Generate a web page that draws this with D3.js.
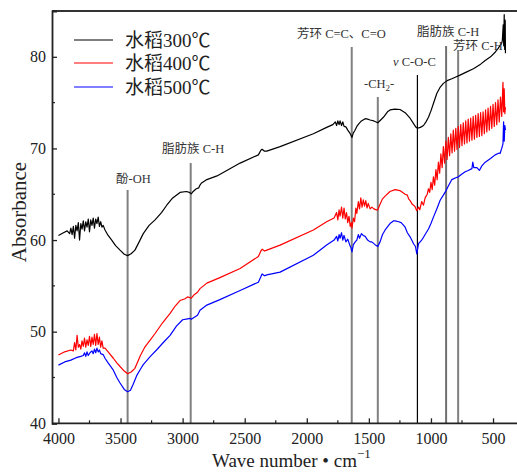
<!DOCTYPE html>
<html><head><meta charset="utf-8">
<script src="https://cdn.jsdelivr.net/npm/d3@7"></script>
<style>body{margin:0;background:#fff}svg{display:block}</style>
</head><body><svg id="c" width="517" height="474"></svg>
<script>
// ---- data ----
const seriesNames = ["水稻300℃", "水稻400℃", "水稻500℃"];
const seriesColors = ["#000000", "#ff0000", "#0000ff"];
const xTicks = [4000, 3500, 3000, 2500, 2000, 1500, 1000, 500];
const yTicks = [40, 50, 60, 70, 80];

const s300 = [[4000,60.5],[3960,60.8],[3930,61.0],[3910,60.7],[3900,61.3],[3890,60.6],[3880,61.5],[3870,60.2],[3860,61.6],[3850,61.0],[3840,61.9],[3830,60.0],[3820,61.8],[3810,61.2],[3800,62.1],[3790,61.0],[3780,62.0],[3770,61.4],[3760,62.3],[3750,60.9],[3740,62.2],[3730,61.6],[3720,62.4],[3710,61.3],[3700,62.3],[3690,61.8],[3680,62.5],[3670,61.5],[3660,62.0],[3650,61.4],[3640,61.6],[3625,61.1],[3600,60.5],[3571,60.0],[3540,59.4],[3504,58.9],[3470,58.45],[3443,58.3],[3415,58.5],[3384,58.9],[3350,59.8],[3317,60.7],[3270,61.6],[3222,62.2],[3170,63.0],[3128,63.8],[3080,64.6],[3021,65.2],[2970,65.3],[2945,65.2],[2930,65.05],[2915,65.3],[2890,65.6],[2870,65.7],[2860,66.0],[2850,66.2],[2805,66.6],[2723,67.0],[2537,68.4],[2390,69.3],[2370,69.8],[2360,69.9],[2340,69.7],[2322,69.7],[2215,70.2],[1947,71.6],[1840,72.3],[1790,72.6],[1770,72.9],[1760,72.5],[1750,73.0],[1740,72.6],[1732,73.0],[1720,72.5],[1710,72.9],[1700,72.4],[1685,72.35],[1670,72.0],[1660,71.8],[1650,71.6],[1636,71.2],[1625,71.7],[1615,71.9],[1597,72.4],[1580,72.7],[1560,73.0],[1530,73.25],[1510,73.2],[1490,73.1],[1460,73.0],[1428,72.8],[1405,73.1],[1383,73.4],[1350,74.0],[1329,74.2],[1290,74.3],[1249,74.25],[1208,73.9],[1168,73.3],[1140,72.7],[1120,72.3],[1109,72.2],[1085,72.3],[1060,72.5],[1040,72.9],[1020,73.4],[1000,74.1],[980,74.9],[953,76.0],[925,76.7],[900,77.1],[870,77.4],[832,77.6],[800,77.8],[766,78.0],[720,78.3],[658,78.7],[600,79.2],[563,79.6],[520,80.0],[483,80.5],[460,80.9],[443,81.25],[430,81.5],[425,81.8],[418,83.5],[414,81.2],[410,84.6],[406,80.8],[402,84.0],[400,80.4]];

const s400 = [[4000,47.45],[3950,47.8],[3900,48.0],[3880,47.9],[3870,48.8],[3860,48.0],[3850,49.6],[3840,48.3],[3830,48.6],[3820,48.1],[3810,49.0],[3800,48.4],[3790,49.3],[3780,48.3],[3770,49.1],[3760,48.5],[3750,49.5],[3740,48.4],[3730,49.4],[3720,48.6],[3710,49.7],[3700,48.5],[3690,49.8],[3680,48.6],[3670,49.4],[3660,48.3],[3650,49.0],[3640,48.2],[3625,48.2],[3600,47.8],[3558,47.1],[3530,46.6],[3504,46.2],[3470,45.7],[3443,45.4],[3415,45.6],[3384,46.0],[3340,47.4],[3303,48.35],[3260,49.1],[3222,49.8],[3160,51.0],[3101,52.0],[3060,52.8],[3021,53.4],[2980,53.6],[2960,53.8],[2940,53.7],[2930,53.65],[2910,54.0],[2880,54.3],[2860,54.7],[2805,55.3],[2700,55.9],[2537,56.9],[2390,58.2],[2370,58.8],[2360,59.0],[2340,58.8],[2322,58.9],[2215,59.45],[1947,61.1],[1840,62.0],[1780,62.4],[1760,63.0],[1750,62.2],[1740,63.3],[1732,62.6],[1720,63.6],[1710,62.4],[1700,63.5],[1690,62.3],[1680,63.0],[1670,61.9],[1660,62.6],[1650,61.5],[1640,61.9],[1636,61.3],[1625,62.4],[1615,62.0],[1605,63.5],[1597,62.9],[1585,64.2],[1575,63.4],[1565,64.6],[1555,63.6],[1545,64.4],[1535,63.7],[1525,64.3],[1515,63.5],[1505,64.0],[1490,63.4],[1476,63.6],[1460,63.4],[1440,63.3],[1428,63.3],[1410,63.9],[1390,64.5],[1369,64.8],[1330,65.3],[1289,65.5],[1250,65.4],[1208,65.0],[1190,64.9],[1180,64.5],[1168,64.3],[1150,63.9],[1130,63.7],[1114,63.2],[1100,63.6],[1090,63.3],[1075,64.2],[1060,63.8],[1047,64.6],[1030,65.0],[1020,65.6],[1010,65.2],[1000,66.3],[990,65.5],[980,66.9],[970,66.0],[960,67.7],[950,66.6],[940,68.5],[930,67.3],[920,69.4],[910,67.9],[900,70.2],[890,68.4],[880,70.8],[870,68.8],[860,71.2],[850,69.2],[840,71.6],[830,69.5],[820,72.0],[810,69.7],[800,72.2],[790,69.9],[780,72.4],[770,70.1],[760,72.6],[750,70.3],[740,72.8],[730,70.5],[720,73.0],[710,70.6],[700,73.2],[690,70.8],[680,73.3],[670,70.9],[660,73.5],[650,71.0],[640,73.6],[630,71.2],[620,73.8],[610,71.3],[600,73.9],[590,71.4],[580,74.0],[570,71.6],[560,74.2],[550,71.8],[540,74.4],[530,72.0],[520,74.6],[510,72.2],[500,74.8],[490,72.4],[480,75.0],[470,72.6],[460,75.3],[450,72.9],[440,75.6],[430,73.5],[420,77.2],[415,74.0],[410,76.5],[405,73.8],[400,74.5]];

const s500 = [[4000,46.35],[3950,46.7],[3900,46.9],[3867,47.1],[3850,47.2],[3820,47.3],[3800,47.4],[3790,47.7],[3780,47.3],[3770,47.8],[3760,47.4],[3746,47.7],[3730,47.9],[3720,47.6],[3710,48.1],[3700,47.7],[3690,48.2],[3680,47.8],[3670,48.0],[3660,47.6],[3640,47.5],[3625,47.1],[3600,46.6],[3558,45.8],[3530,45.0],[3504,44.4],[3470,43.7],[3443,43.45],[3420,43.6],[3400,44.2],[3370,45.2],[3340,45.9],[3317,46.4],[3260,47.3],[3210,48.0],[3150,48.9],[3101,49.6],[3050,50.6],[3000,51.3],[2960,51.4],[2940,51.45],[2930,51.35],[2915,51.5],[2880,51.8],[2860,52.35],[2805,52.9],[2700,53.5],[2537,54.5],[2390,55.4],[2370,56.0],[2360,56.3],[2340,56.1],[2322,56.2],[2215,56.5],[1947,58.35],[1840,59.45],[1780,60.0],[1760,60.4],[1750,59.9],[1740,60.6],[1732,60.2],[1720,60.8],[1710,60.0],[1700,60.5],[1685,59.8],[1670,60.1],[1655,59.5],[1645,59.2],[1636,58.7],[1625,59.5],[1610,59.8],[1597,60.0],[1585,60.6],[1575,60.2],[1560,60.7],[1545,60.5],[1530,60.4],[1510,60.0],[1490,59.8],[1476,59.8],[1450,59.5],[1428,59.3],[1410,59.8],[1390,60.6],[1369,61.1],[1330,61.8],[1300,62.1],[1289,62.1],[1260,62.0],[1240,61.9],[1220,61.6],[1208,61.4],[1190,60.8],[1168,60.35],[1140,59.6],[1125,59.3],[1114,58.5],[1100,59.6],[1080,59.9],[1060,60.3],[1047,60.6],[1020,61.2],[1000,61.8],[980,62.5],[953,63.4],[926,64.35],[900,64.9],[878,65.4],[860,65.9],[832,66.6],[800,66.8],[779,66.9],[750,67.2],[724,67.45],[700,67.6],[670,67.8],[663,68.5],[655,67.9],[630,67.9],[610,67.6],[590,68.1],[563,68.5],[520,68.9],[483,69.3],[450,69.5],[443,69.45],[430,70.0],[420,70.5],[415,72.9],[410,70.8],[405,72.5],[400,72.0]];

const series = [s300, s400, s500];

const bandWn = [3443, 2935, 1638, 1428, 1109, 878, 781];
const bandLabels = ["酚-OH", "脂肪族 C-H", "芳环 C=C、C=O", "-CH2-", "ν C-O-C", "脂肪族 C-H", "芳环 C-H"];

// ---- layout ----
const svg = d3.select("#c");
const L = 52, R = 517, T = 11, B = 423.3;
const x = d3.scaleLinear().domain([4052, 307]).range([L, R]);
const y = d3.scaleLinear().domain([40, 85]).range([B, T]);
const font = "'Liberation Serif','Noto Sans CJK SC',serif";

// annotation lines
const bandTop = [190, 163, 47, 97, 75, 46, 50];
const bandColor = ["#808080","#808080","#808080","#808080","#000000","#707070","#808080"];
const bandWidth = [2,2,2,2,1.2,2,2];
svg.append("g").selectAll("line").data(bandWn).join("line")
  .attr("x1", d => x(d)).attr("x2", d => x(d))
  .attr("y1", (d,i) => bandTop[i]).attr("y2", B)
  .attr("stroke", (d,i) => bandColor[i]).attr("stroke-width", (d,i) => bandWidth[i]);

// curves
const line = d3.line().x(d => x(d[0])).y(d => y(d[1]));
svg.append("g").selectAll("path").data(series).join("path")
  .attr("d", line).attr("fill", "none")
  .attr("stroke", (d,i) => seriesColors[i]).attr("stroke-width", 1.2)
  .attr("stroke-linejoin", "round");

// frame
svg.append("line").attr("x1", L).attr("x2", R).attr("y1", T).attr("y2", T).attr("stroke", "#333").attr("stroke-width", 1.8);
const xAxis = d3.axisBottom(x).tickValues(xTicks).tickSize(-5).tickPadding(9).tickFormat(d3.format("d"));
const gx = svg.append("g").attr("transform", `translate(0,${B})`).call(xAxis);
const yAxis = d3.axisLeft(y).tickValues(yTicks).tickSize(-5).tickPadding(6);
const gy = svg.append("g").attr("transform", `translate(${L},0)`).call(yAxis);
[gx, gy].forEach(g => {
  g.select(".domain").attr("stroke", "#222").attr("stroke-width", 1.8);
  g.selectAll(".tick line").attr("stroke", "#222").attr("stroke-width", 1.3);
  g.selectAll("text").attr("font-family", font).attr("font-size", 16).attr("fill", "#222");
});
gx.selectAll("path.domain").attr("d", `M${L},0H${R}`);
// minor ticks
const xMinor = d3.range(3750, 300, -500);
svg.append("g").selectAll("line").data(xMinor).join("line")
  .attr("x1", d => x(d)).attr("x2", d => x(d)).attr("y1", B).attr("y2", B - 3)
  .attr("stroke", "#222").attr("stroke-width", 1.2);
const yMinor = [45, 55, 65, 75];
svg.append("g").selectAll("line").data(yMinor).join("line")
  .attr("x1", L).attr("x2", L + 3).attr("y1", d => y(d)).attr("y2", d => y(d))
  .attr("stroke", "#222").attr("stroke-width", 1.2);

// axis titles
svg.append("text").attr("transform", "translate(26,212) rotate(-90)")
  .attr("text-anchor", "middle").attr("font-family", font).attr("font-size", 21).attr("fill", "#222")
  .text("Absorbance");
const xt = svg.append("text").attr("x", 212).attr("y", 467)
  .attr("font-family", font).attr("font-size", 19).attr("fill", "#222");
xt.append("tspan").text("Wave number • cm");
xt.append("tspan").attr("dy", -9).attr("font-size", 13).text("−1");

// legend
const legY = [40, 63, 87];
const lg = svg.append("g");
seriesNames.forEach((n, i) => {
  lg.append("line").attr("x1", 74).attr("x2", 113).attr("y1", legY[i]).attr("y2", legY[i])
    .attr("stroke", seriesColors[i]).attr("stroke-width", 1.2);
  lg.append("text").attr("x", 125).attr("y", legY[i] + 7)
    .attr("font-family", font).attr("font-size", 19).attr("fill", "#222").text(n);
});

// band labels
const labX = [116, 162, 297, 364, 393, 417, 453];
const labY = [183, 153, 38, 88, 66, 36, 50];
bandLabels.forEach((t, i) => {
  const tx = svg.append("text").attr("x", labX[i]).attr("y", labY[i])
    .attr("font-family", font).attr("font-size", 12.5).attr("fill", "#333");
  if (t === "-CH2-") {
    tx.append("tspan").text("-CH");
    tx.append("tspan").attr("dy", 3).attr("font-size", 9).text("2");
    tx.append("tspan").attr("dy", -3).text("-");
  } else if (t.startsWith("ν")) {
    tx.append("tspan").attr("font-style", "italic").text("ν");
    tx.append("tspan").text(t.slice(1));
  } else {
    tx.text(t);
  }
});
</script></body></html>
